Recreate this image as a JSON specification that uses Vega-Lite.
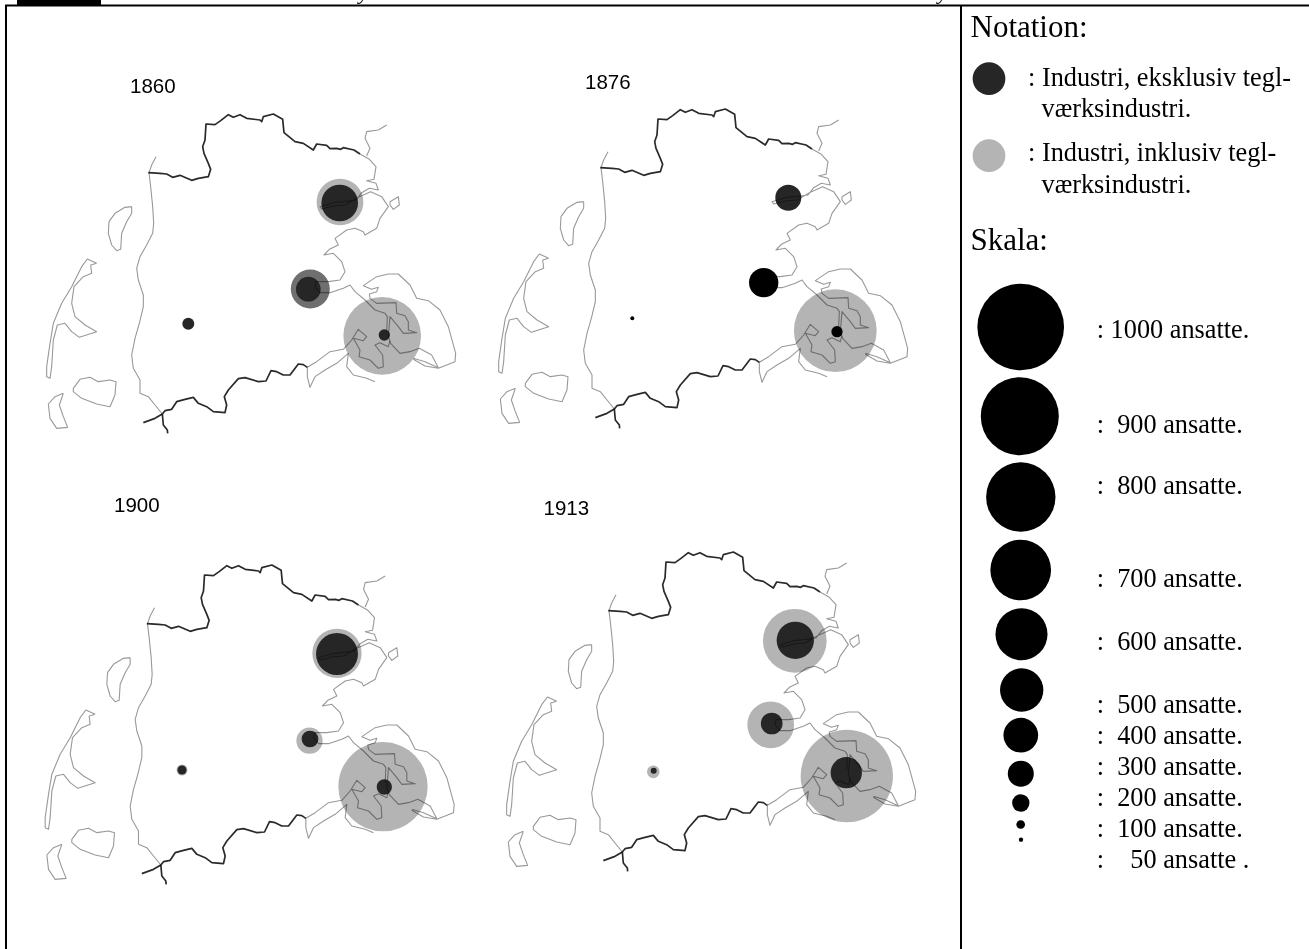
{"$schema":"https://vega.github.io/schema/vega-lite/v6.json","width":1309,"height":949,"padding":0,"autosize":{"type":"fit","contains":"padding"},"background":"#ffffff","config":{"view":{"stroke":null}},
"resolve":{"scale":{"x":"independent","y":"independent"}},
"datasets":{
"kyst":[
{"p":"n","i":0,"x":445,"y":248,"k":"b"},{"p":"n","i":1,"x":480,"y":250,"k":"b"},{"p":"n","i":2,"x":500,"y":252,"k":"b"},{"p":"n","i":3,"x":518,"y":262,"k":"b"},{"p":"n","i":4,"x":540,"y":256,"k":"b"},{"p":"n","i":5,"x":575,"y":271,"k":"b"},{"p":"n","i":6,"x":595,"y":265,"k":"b"},{"p":"n","i":7,"x":625,"y":260,"k":"b"},{"p":"n","i":8,"x":632,"y":238,"k":"b"},{"p":"n","i":9,"x":625,"y":220,"k":"b"},{"p":"n","i":10,"x":612,"y":190,"k":"b"},{"p":"n","i":11,"x":608,"y":170,"k":"b"},{"p":"n","i":12,"x":615,"y":150,"k":"b"},{"p":"n","i":13,"x":618,"y":102,"k":"b"},{"p":"n","i":14,"x":645,"y":104,"k":"b"},{"p":"n","i":15,"x":662,"y":92,"k":"b"},{"p":"n","i":16,"x":685,"y":74,"k":"b"},{"p":"n","i":17,"x":700,"y":82,"k":"b"},{"p":"n","i":18,"x":720,"y":74,"k":"b"},{"p":"n","i":19,"x":740,"y":85,"k":"b"},{"p":"n","i":20,"x":780,"y":90,"k":"b"},{"p":"n","i":21,"x":785,"y":95,"k":"b"},{"p":"n","i":22,"x":790,"y":80,"k":"b"},{"p":"n","i":23,"x":820,"y":72,"k":"b"},{"p":"n","i":24,"x":848,"y":88,"k":"b"},{"p":"n","i":25,"x":852,"y":128,"k":"b"},{"p":"n","i":26,"x":885,"y":155,"k":"b"},{"p":"n","i":27,"x":910,"y":160,"k":"b"},{"p":"n","i":28,"x":940,"y":180,"k":"b"},{"p":"n","i":29,"x":950,"y":162,"k":"b"},{"p":"n","i":30,"x":980,"y":166,"k":"b"},{"p":"n","i":31,"x":990,"y":176,"k":"b"},{"p":"n","i":32,"x":1010,"y":175,"k":"b"},{"p":"n","i":33,"x":1022,"y":178,"k":"b"},{"p":"n","i":34,"x":1030,"y":173,"k":"b"},{"p":"n","i":35,"x":1062,"y":180,"k":"b"},{"p":"n","i":36,"x":1080,"y":192,"k":"b"},
{"p":"s","i":0,"x":487,"y":972,"k":"b"},{"p":"s","i":1,"x":495,"y":962,"k":"b"},{"p":"s","i":2,"x":515,"y":958,"k":"b"},{"p":"s","i":3,"x":530,"y":935,"k":"b"},{"p":"s","i":4,"x":555,"y":928,"k":"b"},{"p":"s","i":5,"x":580,"y":922,"k":"b"},{"p":"s","i":6,"x":595,"y":940,"k":"b"},{"p":"s","i":7,"x":620,"y":950,"k":"b"},{"p":"s","i":8,"x":640,"y":965,"k":"b"},{"p":"s","i":9,"x":675,"y":968,"k":"b"},{"p":"s","i":10,"x":680,"y":945,"k":"b"},{"p":"s","i":11,"x":673,"y":920,"k":"b"},{"p":"s","i":12,"x":685,"y":900,"k":"b"},{"p":"s","i":13,"x":715,"y":866,"k":"b"},{"p":"s","i":14,"x":735,"y":863,"k":"b"},{"p":"s","i":15,"x":775,"y":875,"k":"b"},{"p":"s","i":16,"x":798,"y":873,"k":"b"},{"p":"s","i":17,"x":813,"y":842,"k":"b"},{"p":"s","i":18,"x":830,"y":845,"k":"b"},{"p":"s","i":19,"x":850,"y":855,"k":"b"},{"p":"s","i":20,"x":870,"y":855,"k":"b"},{"p":"s","i":21,"x":895,"y":822,"k":"b"},{"p":"s","i":22,"x":910,"y":824,"k":"b"},{"p":"s","i":23,"x":922,"y":832,"k":"b"},
{"p":"sw1","i":0,"x":430,"y":998,"k":"b"},{"p":"sw1","i":1,"x":465,"y":985,"k":"b"},{"p":"sw1","i":2,"x":487,"y":972,"k":"b"},
{"p":"sw2","i":0,"x":487,"y":972,"k":"b"},{"p":"sw2","i":1,"x":490,"y":1005,"k":"b"},{"p":"sw2","i":2,"x":502,"y":1020,"k":"b"},{"p":"sw2","i":3,"x":503,"y":1030,"k":"b"},
{"p":"w","i":0,"x":468,"y":200,"k":"c"},{"p":"w","i":1,"x":455,"y":225,"k":"c"},{"p":"w","i":2,"x":447,"y":248,"k":"c"},{"p":"w","i":3,"x":452,"y":290,"k":"c"},{"p":"w","i":4,"x":458,"y":350,"k":"c"},{"p":"w","i":5,"x":461,"y":400,"k":"c"},{"p":"w","i":6,"x":458,"y":430,"k":"c"},{"p":"w","i":7,"x":440,"y":465,"k":"c"},{"p":"w","i":8,"x":420,"y":500,"k":"c"},{"p":"w","i":9,"x":410,"y":535,"k":"c"},{"p":"w","i":10,"x":415,"y":570,"k":"c"},{"p":"w","i":11,"x":430,"y":615,"k":"c"},{"p":"w","i":12,"x":430,"y":650,"k":"c"},{"p":"w","i":13,"x":418,"y":700,"k":"c"},{"p":"w","i":14,"x":405,"y":745,"k":"c"},{"p":"w","i":15,"x":395,"y":795,"k":"c"},{"p":"w","i":16,"x":400,"y":835,"k":"c"},{"p":"w","i":17,"x":420,"y":870,"k":"c"},{"p":"w","i":18,"x":420,"y":910,"k":"c"},{"p":"w","i":19,"x":445,"y":920,"k":"c"},{"p":"w","i":20,"x":465,"y":945,"k":"c"},{"p":"w","i":21,"x":487,"y":972,"k":"c"},
{"p":"ne","i":0,"x":1160,"y":105,"k":"c"},{"p":"ne","i":1,"x":1135,"y":120,"k":"c"},{"p":"ne","i":2,"x":1100,"y":125,"k":"c"},{"p":"ne","i":3,"x":1095,"y":145,"k":"c"},{"p":"ne","i":4,"x":1110,"y":175,"k":"c"},{"p":"ne","i":5,"x":1100,"y":198,"k":"c"},
{"p":"e1","i":0,"x":1080,"y":192,"k":"c"},{"p":"e1","i":1,"x":1108,"y":208,"k":"c"},{"p":"e1","i":2,"x":1128,"y":230,"k":"c"},{"p":"e1","i":3,"x":1122,"y":268,"k":"c"},{"p":"e1","i":4,"x":1100,"y":272,"k":"c"},{"p":"e1","i":5,"x":1128,"y":280,"k":"c"},{"p":"e1","i":6,"x":1135,"y":300,"k":"c"},{"p":"e1","i":7,"x":1108,"y":295,"k":"c"},{"p":"e1","i":8,"x":1085,"y":308,"k":"c"},{"p":"e1","i":9,"x":1068,"y":330,"k":"c"},{"p":"e1","i":10,"x":1030,"y":335,"k":"c"},{"p":"e1","i":11,"x":1000,"y":338,"k":"c"},{"p":"e1","i":12,"x":960,"y":350,"k":"c"},{"p":"e1","i":13,"x":965,"y":357,"k":"c"},{"p":"e1","i":14,"x":1000,"y":348,"k":"c"},{"p":"e1","i":15,"x":1035,"y":345,"k":"c"},{"p":"e1","i":16,"x":1075,"y":322,"k":"c"},{"p":"e1","i":17,"x":1112,"y":305,"k":"c"},{"p":"e1","i":18,"x":1145,"y":320,"k":"c"},{"p":"e1","i":19,"x":1165,"y":350,"k":"c"},{"p":"e1","i":20,"x":1140,"y":385,"k":"c"},{"p":"e1","i":21,"x":1130,"y":415,"k":"c"},{"p":"e1","i":22,"x":1095,"y":435,"k":"c"},{"p":"e1","i":23,"x":1090,"y":425,"k":"c"},{"p":"e1","i":24,"x":1065,"y":415,"k":"c"},{"p":"e1","i":25,"x":1040,"y":420,"k":"c"},{"p":"e1","i":26,"x":1005,"y":445,"k":"c"},{"p":"e1","i":27,"x":1015,"y":465,"k":"c"},{"p":"e1","i":28,"x":988,"y":478,"k":"c"},{"p":"e1","i":29,"x":972,"y":495,"k":"c"},{"p":"e1","i":30,"x":1000,"y":490,"k":"c"},{"p":"e1","i":31,"x":1025,"y":515,"k":"c"},{"p":"e1","i":32,"x":1035,"y":545,"k":"c"},{"p":"e1","i":33,"x":1020,"y":570,"k":"c"},{"p":"e1","i":34,"x":985,"y":575,"k":"c"},{"p":"e1","i":35,"x":948,"y":575,"k":"c"},{"p":"e1","i":36,"x":945,"y":590,"k":"c"},{"p":"e1","i":37,"x":960,"y":608,"k":"c"},{"p":"e1","i":38,"x":990,"y":608,"k":"c"},{"p":"e1","i":39,"x":1030,"y":595,"k":"c"},{"p":"e1","i":40,"x":1050,"y":585,"k":"c"},{"p":"e1","i":41,"x":1065,"y":605,"k":"c"},{"p":"e1","i":42,"x":1095,"y":630,"k":"c"},{"p":"e1","i":43,"x":1125,"y":660,"k":"c"},{"p":"e1","i":44,"x":1155,"y":670,"k":"c"},{"p":"e1","i":45,"x":1162,"y":680,"k":"c"},{"p":"e1","i":46,"x":1160,"y":725,"k":"c"},
{"p":"dj","i":0,"x":1240,"y":805,"k":"c"},{"p":"dj","i":1,"x":1275,"y":815,"k":"c"},{"p":"dj","i":2,"x":1315,"y":833,"k":"c"},{"p":"dj","i":3,"x":1295,"y":795,"k":"c"},{"p":"dj","i":4,"x":1258,"y":775,"k":"c"},{"p":"dj","i":5,"x":1230,"y":785,"k":"c"},{"p":"dj","i":6,"x":1200,"y":790,"k":"c"},{"p":"dj","i":7,"x":1172,"y":760,"k":"c"},{"p":"dj","i":8,"x":1165,"y":740,"k":"c"},{"p":"dj","i":9,"x":1170,"y":680,"k":"c"},{"p":"dj","i":10,"x":1195,"y":710,"k":"c"},{"p":"dj","i":11,"x":1210,"y":730,"k":"c"},{"p":"dj","i":12,"x":1250,"y":728,"k":"c"},{"p":"dj","i":13,"x":1225,"y":720,"k":"c"},{"p":"dj","i":14,"x":1225,"y":695,"k":"c"},{"p":"dj","i":15,"x":1215,"y":677,"k":"c"},{"p":"dj","i":16,"x":1190,"y":670,"k":"c"},{"p":"dj","i":17,"x":1188,"y":638,"k":"c"},{"p":"dj","i":18,"x":1130,"y":640,"k":"c"},{"p":"dj","i":19,"x":1110,"y":625,"k":"c"},{"p":"dj","i":20,"x":1108,"y":612,"k":"c"},{"p":"dj","i":21,"x":1130,"y":605,"k":"c"},{"p":"dj","i":22,"x":1135,"y":592,"k":"c"},{"p":"dj","i":23,"x":1115,"y":598,"k":"c"},{"p":"dj","i":24,"x":1090,"y":587,"k":"c"},{"p":"dj","i":25,"x":1130,"y":560,"k":"c"},{"p":"dj","i":26,"x":1165,"y":552,"k":"c"},{"p":"dj","i":27,"x":1195,"y":552,"k":"c"},{"p":"dj","i":28,"x":1230,"y":585,"k":"c"},{"p":"dj","i":29,"x":1250,"y":625,"k":"c"},{"p":"dj","i":30,"x":1285,"y":632,"k":"c"},{"p":"dj","i":31,"x":1320,"y":660,"k":"c"},{"p":"dj","i":32,"x":1345,"y":710,"k":"c"},{"p":"dj","i":33,"x":1367,"y":790,"k":"c"},{"p":"dj","i":34,"x":1365,"y":815,"k":"c"},{"p":"dj","i":35,"x":1315,"y":835,"k":"c"},{"p":"dj","i":36,"x":1275,"y":828,"k":"c"},{"p":"dj","i":37,"x":1240,"y":808,"k":"c"},
{"p":"vf","i":0,"x":922,"y":832,"k":"c"},{"p":"vf","i":1,"x":950,"y":815,"k":"c"},{"p":"vf","i":2,"x":990,"y":785,"k":"c"},{"p":"vf","i":3,"x":1030,"y":778,"k":"c"},{"p":"vf","i":4,"x":1055,"y":750,"k":"c"},{"p":"vf","i":5,"x":1075,"y":718,"k":"c"},{"p":"vf","i":6,"x":1100,"y":740,"k":"c"},{"p":"vf","i":7,"x":1090,"y":752,"k":"c"},{"p":"vf","i":8,"x":1060,"y":745,"k":"c"},{"p":"vf","i":9,"x":1080,"y":780,"k":"c"},{"p":"vf","i":10,"x":1077,"y":800,"k":"c"},{"p":"vf","i":11,"x":1110,"y":810,"k":"c"},{"p":"vf","i":12,"x":1135,"y":835,"k":"c"},{"p":"vf","i":13,"x":1150,"y":830,"k":"c"},{"p":"vf","i":14,"x":1148,"y":795,"k":"c"},{"p":"vf","i":15,"x":1125,"y":765,"k":"c"},{"p":"vf","i":16,"x":1140,"y":758,"k":"c"},{"p":"vf","i":17,"x":1165,"y":770,"k":"c"},{"p":"vf","i":18,"x":1170,"y":752,"k":"c"},
{"p":"sf","i":0,"x":922,"y":832,"k":"c"},{"p":"sf","i":1,"x":922,"y":860,"k":"c"},{"p":"sf","i":2,"x":930,"y":892,"k":"c"},{"p":"sf","i":3,"x":945,"y":860,"k":"c"},{"p":"sf","i":4,"x":975,"y":840,"k":"c"},{"p":"sf","i":5,"x":1010,"y":820,"k":"c"},{"p":"sf","i":6,"x":1045,"y":790,"k":"c"},{"p":"sf","i":7,"x":1040,"y":830,"k":"c"},{"p":"sf","i":8,"x":1060,"y":855,"k":"c"},{"p":"sf","i":9,"x":1100,"y":865,"k":"c"},{"p":"sf","i":10,"x":1125,"y":875,"k":"c"},
{"p":"o1","i":0,"x":1170,"y":335,"k":"c"},{"p":"o1","i":1,"x":1195,"y":320,"k":"c"},{"p":"o1","i":2,"x":1198,"y":345,"k":"c"},{"p":"o1","i":3,"x":1180,"y":358,"k":"c"},{"p":"o1","i":4,"x":1170,"y":345,"k":"c"},{"p":"o1","i":5,"x":1170,"y":335,"k":"c"},
{"p":"o2","i":0,"x":395,"y":350,"k":"c"},{"p":"o2","i":1,"x":375,"y":352,"k":"c"},{"p":"o2","i":2,"x":345,"y":370,"k":"c"},{"p":"o2","i":3,"x":327,"y":395,"k":"c"},{"p":"o2","i":4,"x":325,"y":430,"k":"c"},{"p":"o2","i":5,"x":335,"y":465,"k":"c"},{"p":"o2","i":6,"x":350,"y":482,"k":"c"},{"p":"o2","i":7,"x":362,"y":478,"k":"c"},{"p":"o2","i":8,"x":365,"y":430,"k":"c"},{"p":"o2","i":9,"x":380,"y":395,"k":"c"},{"p":"o2","i":10,"x":395,"y":370,"k":"c"},{"p":"o2","i":11,"x":395,"y":350,"k":"c"},
{"p":"o3","i":0,"x":290,"y":520,"k":"c"},{"p":"o3","i":1,"x":262,"y":507,"k":"c"},{"p":"o3","i":2,"x":245,"y":530,"k":"c"},{"p":"o3","i":3,"x":215,"y":590,"k":"c"},{"p":"o3","i":4,"x":185,"y":640,"k":"c"},{"p":"o3","i":5,"x":160,"y":700,"k":"c"},{"p":"o3","i":6,"x":150,"y":760,"k":"c"},{"p":"o3","i":7,"x":140,"y":830,"k":"c"},{"p":"o3","i":8,"x":140,"y":860,"k":"c"},{"p":"o3","i":9,"x":150,"y":865,"k":"c"},{"p":"o3","i":10,"x":155,"y":830,"k":"c"},{"p":"o3","i":11,"x":160,"y":750,"k":"c"},{"p":"o3","i":12,"x":172,"y":705,"k":"c"},{"p":"o3","i":13,"x":195,"y":700,"k":"c"},{"p":"o3","i":14,"x":215,"y":725,"k":"c"},{"p":"o3","i":15,"x":238,"y":742,"k":"c"},{"p":"o3","i":16,"x":290,"y":725,"k":"c"},{"p":"o3","i":17,"x":255,"y":705,"k":"c"},{"p":"o3","i":18,"x":225,"y":680,"k":"c"},{"p":"o3","i":19,"x":215,"y":640,"k":"c"},{"p":"o3","i":20,"x":222,"y":590,"k":"c"},{"p":"o3","i":21,"x":250,"y":560,"k":"c"},{"p":"o3","i":22,"x":275,"y":550,"k":"c"},{"p":"o3","i":23,"x":272,"y":525,"k":"c"},{"p":"o3","i":24,"x":290,"y":520,"k":"c"},
{"p":"o4","i":0,"x":220,"y":895,"k":"c"},{"p":"o4","i":1,"x":240,"y":868,"k":"c"},{"p":"o4","i":2,"x":270,"y":862,"k":"c"},{"p":"o4","i":3,"x":295,"y":875,"k":"c"},{"p":"o4","i":4,"x":330,"y":870,"k":"c"},{"p":"o4","i":5,"x":348,"y":875,"k":"c"},{"p":"o4","i":6,"x":345,"y":915,"k":"c"},{"p":"o4","i":7,"x":330,"y":950,"k":"c"},{"p":"o4","i":8,"x":290,"y":942,"k":"c"},{"p":"o4","i":9,"x":245,"y":925,"k":"c"},{"p":"o4","i":10,"x":220,"y":905,"k":"c"},{"p":"o4","i":11,"x":220,"y":895,"k":"c"},
{"p":"o5","i":0,"x":190,"y":910,"k":"c"},{"p":"o5","i":1,"x":165,"y":920,"k":"c"},{"p":"o5","i":2,"x":145,"y":942,"k":"c"},{"p":"o5","i":3,"x":150,"y":985,"k":"c"},{"p":"o5","i":4,"x":170,"y":1015,"k":"c"},{"p":"o5","i":5,"x":203,"y":1012,"k":"c"},{"p":"o5","i":6,"x":190,"y":980,"k":"c"},{"p":"o5","i":7,"x":178,"y":945,"k":"c"},{"p":"o5","i":8,"x":190,"y":910,"k":"c"}
],
"cirkler":[
{"aar":"1860","serie":"inkl","ansatte":539,"x":340,"y":202},{"aar":"1860","serie":"inklm","ansatte":450,"x":310.3,"y":289},{"aar":"1860","serie":"inkl","ansatte":896,"x":382.2,"y":335.8},{"aar":"1860","serie":"ekskl","ansatte":423,"x":339.7,"y":203},{"aar":"1860","serie":"ekskl","ansatte":285,"x":308.3,"y":289.2},{"aar":"1860","serie":"ekskl","ansatte":138,"x":188.3,"y":323.7},{"aar":"1860","serie":"ekskl","ansatte":130,"x":384.3,"y":335},
{"aar":"1876","serie":"inkl","ansatte":954,"x":835.3,"y":330.7},{"aar":"1876","serie":"ekskl","ansatte":300,"x":788.3,"y":197.7},{"aar":"1876","serie":"skala","ansatte":338,"x":763.7,"y":282.7},{"aar":"1876","serie":"skala","ansatte":46,"x":632.3,"y":318.3},{"aar":"1876","serie":"skala","ansatte":130,"x":837,"y":331.7},
{"aar":"1900","serie":"inkl","ansatte":569,"x":337,"y":653.3},{"aar":"1900","serie":"inkl","ansatte":303,"x":309.5,"y":740.7},{"aar":"1900","serie":"inkl","ansatte":127,"x":182,"y":770},{"aar":"1900","serie":"inkl","ansatte":1030,"x":383,"y":786.7},{"aar":"1900","serie":"ekskl","ansatte":484,"x":337,"y":654},{"aar":"1900","serie":"ekskl","ansatte":193,"x":310,"y":739},{"aar":"1900","serie":"ekskl","ansatte":104,"x":182,"y":770},{"aar":"1900","serie":"ekskl","ansatte":176,"x":384.3,"y":787},
{"aar":"1913","serie":"inkl","ansatte":735,"x":794.8,"y":640.8},{"aar":"1913","serie":"inkl","ansatte":539,"x":770.7,"y":724.8},{"aar":"1913","serie":"inkl","ansatte":146,"x":653.3,"y":771.8},{"aar":"1913","serie":"inkl","ansatte":1065,"x":846.8,"y":776},{"aar":"1913","serie":"ekskl","ansatte":430,"x":795.3,"y":640.3},{"aar":"1913","serie":"ekskl","ansatte":250,"x":771.7,"y":723.5},{"aar":"1913","serie":"ekskl","ansatte":69,"x":653.7,"y":770.7},{"aar":"1913","serie":"ekskl","ansatte":361,"x":846.3,"y":772.7},
{"aar":"notation","serie":"ekskl","ansatte":377,"x":989,"y":78.7},{"aar":"notation","serie":"inkl","ansatte":377,"x":989,"y":155.7},
{"aar":"skala","serie":"skala","ansatte":1000,"x":1020.7,"y":327},{"aar":"skala","serie":"skala","ansatte":900,"x":1019.8,"y":416.2},{"aar":"skala","serie":"skala","ansatte":800,"x":1020.8,"y":497},{"aar":"skala","serie":"skala","ansatte":700,"x":1020.7,"y":570},{"aar":"skala","serie":"skala","ansatte":600,"x":1021.5,"y":634.2},{"aar":"skala","serie":"skala","ansatte":500,"x":1021.7,"y":690},{"aar":"skala","serie":"skala","ansatte":400,"x":1020.8,"y":735.2},{"aar":"skala","serie":"skala","ansatte":300,"x":1020.8,"y":773.7},{"aar":"skala","serie":"skala","ansatte":200,"x":1020.8,"y":803},{"aar":"skala","serie":"skala","ansatte":100,"x":1020.7,"y":824.5},{"aar":"skala","serie":"skala","ansatte":50,"x":1021,"y":839.7}
]},
"layer":[
{"data":{"values":[{"x":5,"x2":7,"y":5,"y2":949},{"x":5,"x2":1309,"y":4.5,"y2":6.5},{"x":960,"x2":962,"y":5,"y2":949},{"x":17,"x2":101,"y":0,"y2":5}]},"mark":{"type":"rect","color":"#000000"},"encoding":{"x":{"field":"x","type":"quantitative","axis":null,"scale":{"domain":[0,1309],"nice":false,"zero":false}},"x2":{"field":"x2"},"y":{"field":"y","type":"quantitative","axis":null,"scale":{"domain":[949,0],"nice":false,"zero":false}},"y2":{"field":"y2"}}},
{"data":{"name":"cirkler"},"mark":{"type":"point","filled":true,"shape":"circle","opacity":1,"strokeWidth":0},"encoding":{"x":{"field":"x","type":"quantitative","axis":null,"scale":{"domain":[0,1309],"nice":false,"zero":false}},"y":{"field":"y","type":"quantitative","axis":null,"scale":{"domain":[949,0],"nice":false,"zero":false}},"size":{"field":"ansatte","type":"quantitative","legend":null,"scale":{"type":"pow","exponent":2,"domain":[0,1000],"range":[0,7517]}},"fill":{"field":"serie","type":"nominal","legend":null,"scale":{"domain":["inkl","inklm","ekskl","skala"],"range":["#b4b4b4","#6f6f6f","#262626","#000000"]}}}},
{"data":{"name":"kyst"},"mark":{"type":"line","blend":"multiply","strokeJoin":"round"},"encoding":{"x":{"field":"x","type":"quantitative","axis":null,"scale":{"domain":[0,3927],"nice":false,"zero":false}},"y":{"field":"y","type":"quantitative","axis":null,"scale":{"domain":[2577,-270],"nice":false,"zero":false}},"detail":{"field":"p"},"order":{"field":"i"},"stroke":{"field":"k","type":"nominal","legend":null,"scale":{"domain":["b","c"],"range":["#2a2a2a","#999999"]}},"strokeWidth":{"field":"k","type":"nominal","legend":null,"scale":{"domain":["b","c"],"range":[1.7,1.1]}}}},
{"data":{"name":"kyst"},"mark":{"type":"line","blend":"multiply","strokeJoin":"round"},"encoding":{"x":{"field":"x","type":"quantitative","axis":null,"scale":{"domain":[-1356,2571],"nice":false,"zero":false}},"y":{"field":"y","type":"quantitative","axis":null,"scale":{"domain":[2592,-255],"nice":false,"zero":false}},"detail":{"field":"p"},"order":{"field":"i"},"stroke":{"field":"k","type":"nominal","legend":null,"scale":{"domain":["b","c"],"range":["#2a2a2a","#999999"]}},"strokeWidth":{"field":"k","type":"nominal","legend":null,"scale":{"domain":["b","c"],"range":[1.7,1.1]}}}},
{"data":{"name":"kyst"},"mark":{"type":"line","blend":"multiply","strokeJoin":"round"},"encoding":{"x":{"field":"x","type":"quantitative","axis":null,"scale":{"domain":[4.5,3931.5],"nice":false,"zero":false}},"y":{"field":"y","type":"quantitative","axis":null,"scale":{"domain":[1224,-1623],"nice":false,"zero":false}},"detail":{"field":"p"},"order":{"field":"i"},"stroke":{"field":"k","type":"nominal","legend":null,"scale":{"domain":["b","c"],"range":["#2a2a2a","#999999"]}},"strokeWidth":{"field":"k","type":"nominal","legend":null,"scale":{"domain":["b","c"],"range":[1.7,1.1]}}}},
{"data":{"name":"kyst"},"mark":{"type":"line","blend":"multiply","strokeJoin":"round"},"encoding":{"x":{"field":"x","type":"quantitative","axis":null,"scale":{"domain":[-1380,2547],"nice":false,"zero":false}},"y":{"field":"y","type":"quantitative","axis":null,"scale":{"domain":[1263,-1584],"nice":false,"zero":false}},"detail":{"field":"p"},"order":{"field":"i"},"stroke":{"field":"k","type":"nominal","legend":null,"scale":{"domain":["b","c"],"range":["#2a2a2a","#999999"]}},"strokeWidth":{"field":"k","type":"nominal","legend":null,"scale":{"domain":["b","c"],"range":[1.7,1.1]}}}},
{"data":{"values":[{"t":"1860","x":130,"y":93},{"t":"1876","x":585,"y":89},{"t":"1900","x":114,"y":511.7},{"t":"1913","x":543.5,"y":515}]},"mark":{"type":"text","font":"Liberation Sans","fontSize":20.5,"align":"left","baseline":"alphabetic","color":"#000000"},"encoding":{"text":{"field":"t"},"x":{"field":"x","type":"quantitative","axis":null,"scale":{"domain":[0,1309],"nice":false,"zero":false}},"y":{"field":"y","type":"quantitative","axis":null,"scale":{"domain":[949,0],"nice":false,"zero":false}}}},
{"data":{"values":[{"t":"Notation:","x":970.5,"y":37},{"t":"Skala:","x":970.5,"y":250}]},"mark":{"type":"text","font":"Liberation Serif","fontSize":31,"align":"left","baseline":"alphabetic","color":"#000000"},"encoding":{"text":{"field":"t"},"x":{"field":"x","type":"quantitative","axis":null,"scale":{"domain":[0,1309],"nice":false,"zero":false}},"y":{"field":"y","type":"quantitative","axis":null,"scale":{"domain":[949,0],"nice":false,"zero":false}}}},
{"data":{"values":[{"t":": Industri, eksklusiv tegl-","x":1028,"y":86},{"t":"værksindustri.","x":1041.5,"y":117},{"t":": Industri, inklusiv tegl-","x":1028,"y":161},{"t":"værksindustri.","x":1041.5,"y":193},
{"t":": 1000 ansatte.","x":1096.7,"y":338},{"t":":\u00a0\u00a0900 ansatte.","x":1096.7,"y":432.7},{"t":":\u00a0\u00a0800 ansatte.","x":1096.7,"y":494},{"t":":\u00a0\u00a0700 ansatte.","x":1096.7,"y":587.3},{"t":":\u00a0\u00a0600 ansatte.","x":1096.7,"y":650},{"t":":\u00a0\u00a0500 ansatte.","x":1096.7,"y":713.3},{"t":":\u00a0\u00a0400 ansatte.","x":1096.7,"y":744},{"t":":\u00a0\u00a0300 ansatte.","x":1096.7,"y":775},{"t":":\u00a0\u00a0200 ansatte.","x":1096.7,"y":805.7},{"t":":\u00a0\u00a0100 ansatte.","x":1096.7,"y":837.3},{"t":":\u00a0\u00a0\u00a0\u00a050 ansatte .","x":1096.7,"y":868.3}]},"mark":{"type":"text","font":"Liberation Serif","fontSize":26.3,"align":"left","baseline":"alphabetic","color":"#000000"},"encoding":{"text":{"field":"t"},"x":{"field":"x","type":"quantitative","axis":null,"scale":{"domain":[0,1309],"nice":false,"zero":false}},"y":{"field":"y","type":"quantitative","axis":null,"scale":{"domain":[949,0],"nice":false,"zero":false}}}},
{"data":{"values":[{"t":"y","x":359,"y":-1},{"t":"y","x":938,"y":-1}]},"mark":{"type":"text","clip":true,"font":"Liberation Serif","fontStyle":"italic","fontSize":22,"align":"left","baseline":"alphabetic","color":"#000000"},"encoding":{"text":{"field":"t"},"x":{"field":"x","type":"quantitative","axis":null,"scale":{"domain":[0,1309],"nice":false,"zero":false}},"y":{"field":"y","type":"quantitative","axis":null,"scale":{"domain":[949,0],"nice":false,"zero":false}}}}
]}
